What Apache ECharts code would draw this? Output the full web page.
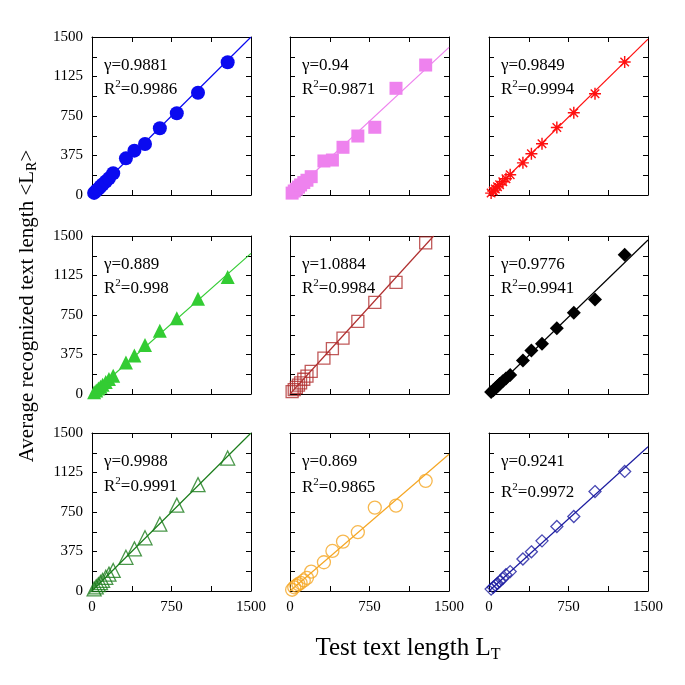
<!DOCTYPE html>
<html>
<head>
<meta charset="utf-8">
<script src="https://cdn.jsdelivr.net/npm/echarts@6/dist/echarts.min.js"></script>
<style>html,body{margin:0;padding:0;background:#fff}#c{width:685px;height:685px}</style>
</head>
<body>
<div id="c"></div>
<script>
// ---- data ----
const xVals = [20, 40, 60, 80, 100, 130, 160, 200, 320, 400, 500, 640, 800, 1000, 1280];
const yBlueCircles   = [20, 40, 58, 80, 100, 128, 158, 206, 348, 421, 484, 633, 776, 971, 1260];
const yVioletSquares = [18, 38, 55, 75, 95, 118, 140, 174, 323, 332, 453, 560, 643, 1013, 1234];
const yRedStars      = [18, 38, 58, 78, 98, 126, 155, 192, 305, 392, 486, 640, 781, 962, 1262];
const yGreenTri      = [16, 34, 52, 70, 88, 113, 143, 174, 300, 365, 465, 600, 720, 904, 1110];
const yBrownSquares  = [22, 42, 62, 85, 105, 140, 170, 215, 340, 430, 530, 690, 870, 1060, 1435];
const yBlackDiamonds = [18, 36, 55, 74, 94, 122, 148, 180, 317, 412, 476, 624, 771, 898, 1323];
const yDarkGreenTri  = [20, 40, 60, 80, 100, 130, 160, 195, 320, 400, 505, 635, 815, 1010, 1262];
const yOrangeCircles = [12, 35, 50, 65, 78, 100, 125, 184, 273, 380, 469, 558, 792, 811, 1046];
const yNavyDiamonds  = [18, 36, 54, 72, 92, 118, 155, 184, 304, 372, 476, 612, 707, 944, 1135];
const fitEnds = [[1500,1500],[1500,1402],[1500,1480],[1500,1335],[1355,1500],[1500,1462],[1500,1500],[1500,1298],[1500,1370]];
const gammas = ['0.9881','0.94','0.9849','0.889','1.0884','0.9776','0.9988','0.869','0.9241'];
const r2s    = ['0.9986','0.9871','0.9994','0.998','0.9984','0.9941','0.9991','0.9865','0.9972'];
const yTickLabels = [0, 375, 750, 1125, 1500];
const xTickLabels = [0, 750, 1500];
const xTitle = 'Test text length L';
const xTitleSub = 'T';
const yTitle = 'Average recognized text length <L';
const yTitleSub = 'R';

// ---- styles ----
const FONT = 'Liberation Serif';
const starPath = 'path://M-0.6,-5 L0.6,-5 L0.6,5 L-0.6,5 Z M-5,-0.6 L5,-0.6 L5,0.6 L-5,0.6 Z M-3.12,-3.96 L3.96,3.12 L3.12,3.96 L-3.96,-3.12 Z M-3.96,3.12 L3.12,-3.96 L3.96,-3.12 L-3.12,3.96 Z';
const panels = [
  {y: yBlueCircles,   color: '#0a0af0', symbol: 'circle',   size: 14, hollow: false},
  {y: yVioletSquares, color: '#ee82ee', symbol: 'rect',     size: 13, hollow: false},
  {y: yRedStars,      color: '#ff1010', symbol: starPath,   size: 12, hollow: false},
  {y: yGreenTri,      color: '#33cc33', symbol: 'triangle', size: 14, hollow: false},
  {y: yBrownSquares,  color: '#b03030', symbol: 'rect',     size: 12, hollow: true},
  {y: yBlackDiamonds, color: '#000000', symbol: 'diamond',  size: 14, hollow: false},
  {y: yDarkGreenTri,  color: '#1b7d1b', symbol: 'triangle', size: 14, hollow: true},
  {y: yOrangeCircles, color: '#f5a623', symbol: 'circle',   size: 13, hollow: true},
  {y: yNavyDiamonds,  color: '#1c1ca0', symbol: 'diamond',  size: 12, hollow: true}
];
const colLeft = [92, 290, 489];
const rowTop = [37, 236, 433];
const W = 159, H = 158;
const r2Offset = [51, 51, 51, 51, 51, 51, 52, 53, 58];

const grids = [], xAxes = [], yAxes = [], series = [], graphics = [];
const axisLine = {show: true, onZero: false, lineStyle: {color: '#000', width: 1}};
panels.forEach((p, i) => {
  const r = Math.floor(i / 3), c = i % 3;
  grids.push({left: colLeft[c], top: rowTop[r], width: W, height: H});
  const bottomRow = r === 2, firstCol = c === 0;
  xAxes.push({type: 'value', gridIndex: i, min: 0, max: 1500, interval: 375, position: 'bottom',
    axisLine, axisTick: {show: true, inside: true, length: 5, lineStyle: {color: '#000'}},
    splitLine: {show: false},
    axisLabel: {show: bottomRow, margin: 9, color: '#000', fontFamily: FONT, fontSize: 15,
      formatter: v => xTickLabels.includes(v) ? String(v) : ''}});
  xAxes.push({type: 'value', gridIndex: i, min: 0, max: 1500, interval: 375, position: 'top',
    axisLine, axisTick: {show: true, inside: true, length: 5, lineStyle: {color: '#000'}},
    splitLine: {show: false}, axisLabel: {show: false}});
  yAxes.push({type: 'value', gridIndex: i, min: 0, max: 1500, interval: 187.5, position: 'left',
    axisLine, axisTick: {show: true, inside: true, length: 5, lineStyle: {color: '#000'}},
    splitLine: {show: false},
    axisLabel: {show: firstCol, margin: 9, color: '#000', fontFamily: FONT, fontSize: 15,
      formatter: v => yTickLabels.includes(v) ? String(v) : ''}});
  yAxes.push({type: 'value', gridIndex: i, min: 0, max: 1500, interval: 187.5, position: 'right',
    axisLine, axisTick: {show: true, inside: true, length: 5, lineStyle: {color: '#000'}},
    splitLine: {show: false}, axisLabel: {show: false}});
  series.push({type: 'line', xAxisIndex: 2 * i, yAxisIndex: 2 * i, data: [[0, 0], fitEnds[i]],
    symbol: 'none', clip: true, lineStyle: {color: p.color, width: 1.2}, z: 2, silent: true});
  series.push({type: 'scatter', xAxisIndex: 2 * i, yAxisIndex: 2 * i,
    data: xVals.map((x, k) => [x, p.y[k]]), symbol: p.symbol, symbolSize: p.size, z: 3,
    itemStyle: p.hollow ? {color: 'rgba(0,0,0,0)', borderColor: p.color, borderWidth: 1.3}
                        : {color: p.color, opacity: 1}});
  const tx = colLeft[c] + 12;
  graphics.push({type: 'text', left: tx, top: rowTop[r] + 20, z: 10,
    style: {text: 'γ=' + gammas[i], fontFamily: FONT, fontSize: 17, fill: '#000'}});
  graphics.push({type: 'text', left: tx, top: rowTop[r] + 20 + r2Offset[i] - 29, z: 10,
    style: {text: 'R{sup|2}=' + r2s[i], fontFamily: FONT, fontSize: 17, fill: '#000',
      rich: {sup: {fontFamily: FONT, fontSize: 11, padding: [0, 0, 11, 0], fill: '#000', color: '#000'}}}});
});
graphics.push({type: 'text', x: 408, y: 648, z: 10,
  style: {text: xTitle + '{sub|' + xTitleSub + '}', fontFamily: FONT, fontSize: 25, fill: '#000',
    align: 'center', verticalAlign: 'middle',
    rich: {sub: {fontFamily: FONT, fontSize: 16, padding: [13, 0, 0, 0], color: '#000'}}}});
graphics.push({type: 'text', x: 27, y: 306, rotation: Math.PI / 2, z: 10,
  style: {text: yTitle + '{sub|' + yTitleSub + '}>', fontFamily: FONT, fontSize: 21, fill: '#000',
    align: 'center', verticalAlign: 'middle',
    rich: {sub: {fontFamily: FONT, fontSize: 14, padding: [11, 0, 0, 0], color: '#000'}}}});

const chart = echarts.init(document.getElementById('c'), null, {renderer: 'canvas'});
chart.setOption({animation: false, backgroundColor: '#fff', grid: grids, xAxis: xAxes, yAxis: yAxes,
  series, graphic: graphics});
</script>
</body>
</html>
